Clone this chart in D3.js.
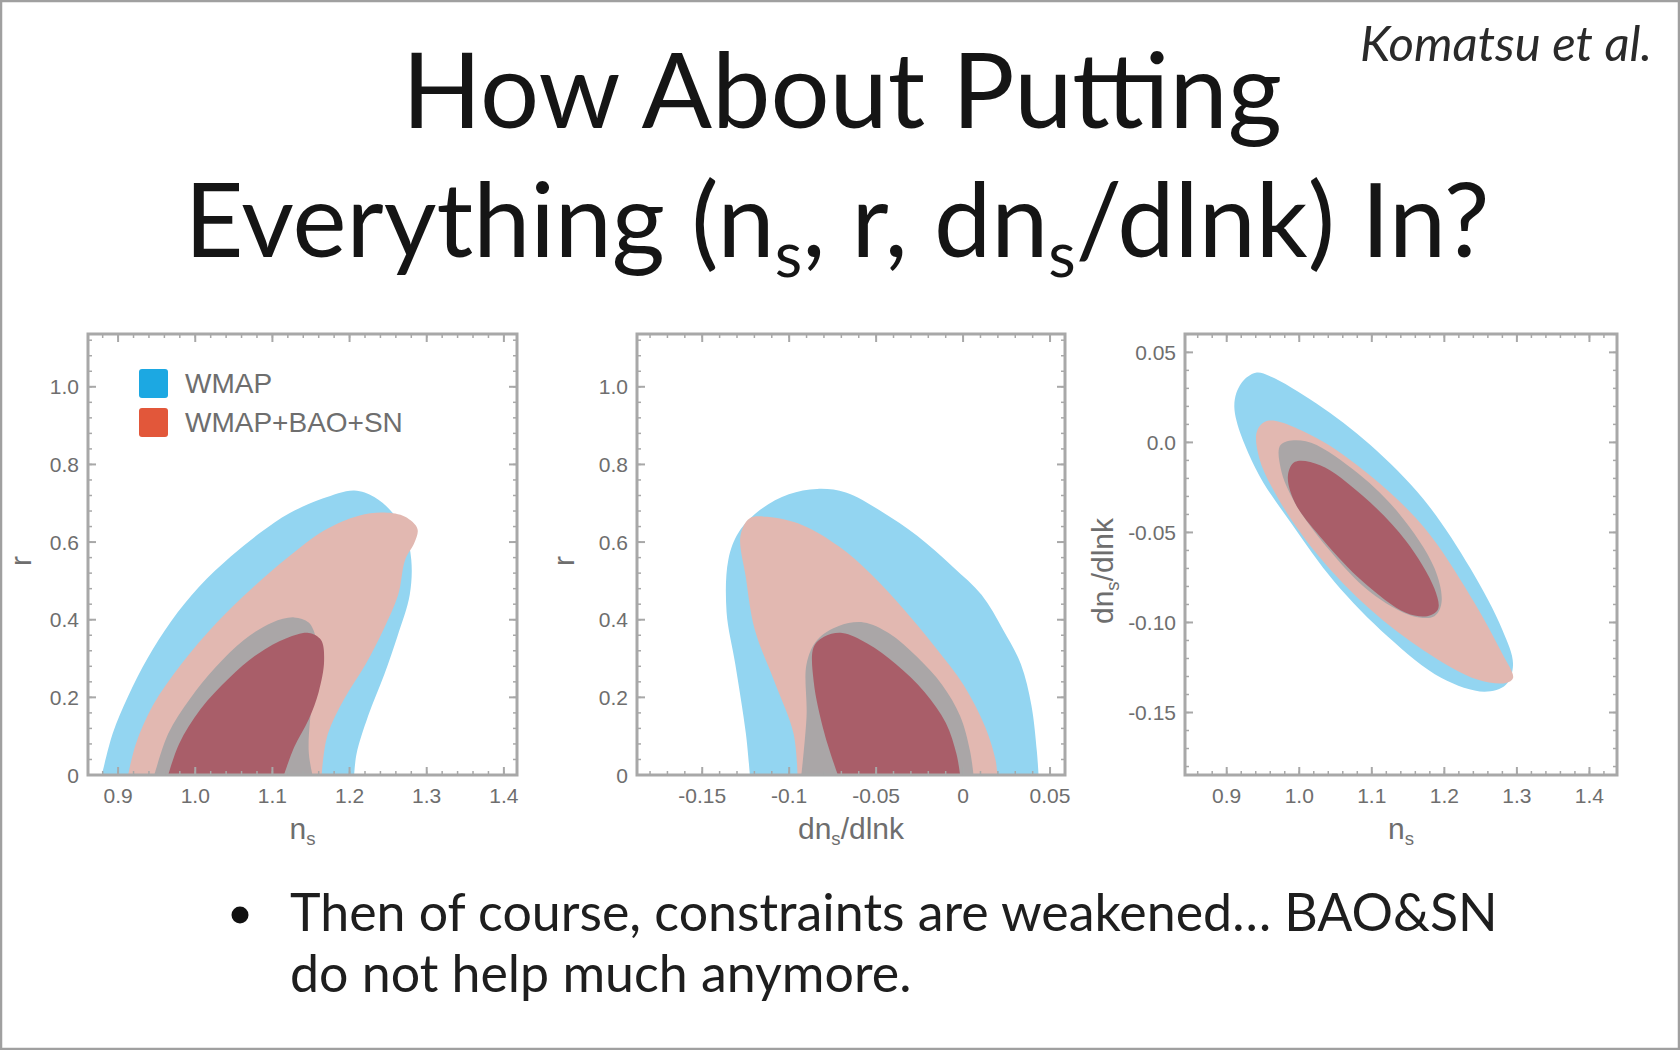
<!DOCTYPE html>
<html>
<head>
<meta charset="utf-8">
<script src="https://cdn.jsdelivr.net/npm/d3@7"></script>
<style>
  body { margin: 0; background: #fff; }
  svg { display: block; }
</style>
</head>
<body>
<div id="slide"></div>
<script>
// ---- values ----
const nsTicks = [0.9, 1.0, 1.1, 1.2, 1.3, 1.4];
const nsTickLabels = ["0.9", "1.0", "1.1", "1.2", "1.3", "1.4"];
const rTicks = [0, 0.2, 0.4, 0.6, 0.8, 1.0];
const rTickLabels = ["0", "0.2", "0.4", "0.6", "0.8", "1.0"];
const runXTicks = [-0.15, -0.1, -0.05, 0, 0.05];
const runXTickLabels = ["-0.15", "-0.1", "-0.05", "0", "0.05"];
const runYTicks = [0.05, 0, -0.05, -0.10, -0.15];
const runYTickLabels = ["0.05", "0.0", "-0.05", "-0.10", "-0.15"];

const legendNames = ["WMAP", "WMAP+BAO+SN"];

// contour outlines [x, y]; panels 1-2 start and end on r = 0
const nsR_wmap95 = [[0.879,0],[0.893,0.107],[0.913,0.203],[0.938,0.300],[0.969,0.397],[1.005,0.485],[1.046,0.563],[1.085,0.625],[1.122,0.674],[1.165,0.712],[1.206,0.733],[1.232,0.716],[1.256,0.675],[1.272,0.625],[1.280,0.554],[1.278,0.464],[1.262,0.357],[1.245,0.259],[1.224,0.152],[1.209,0.054],[1.206,0]];
const nsR_combo95 = [[0.913,0],[0.923,0.080],[0.945,0.179],[0.982,0.286],[1.028,0.393],[1.074,0.482],[1.121,0.562],[1.167,0.630],[1.212,0.668],[1.245,0.676],[1.272,0.665],[1.288,0.634],[1.284,0.598],[1.272,0.554],[1.263,0.464],[1.244,0.375],[1.221,0.286],[1.193,0.196],[1.172,0.107],[1.165,0.027],[1.164,0]];
const nsR_wmap68 = [[0.947,0],[0.965,0.107],[0.993,0.196],[1.026,0.277],[1.063,0.348],[1.100,0.393],[1.128,0.406],[1.147,0.393],[1.156,0.357],[1.160,0.30],[1.152,0.20],[1.147,0.062],[1.152,0]];
const nsR_combo68 = [[0.965,0],[0.979,0.080],[1.007,0.170],[1.044,0.25],[1.081,0.312],[1.119,0.353],[1.147,0.366],[1.163,0.348],[1.167,0.295],[1.160,0.214],[1.147,0.143],[1.128,0.071],[1.115,0]];

const runR_wmap95 = [[-0.1226,0],[-0.1249,0.107],[-0.131,0.286],[-0.136,0.42],[-0.135,0.554],[-0.129,0.625],[-0.1167,0.683],[-0.1002,0.723],[-0.0839,0.737],[-0.0674,0.728],[-0.0469,0.679],[-0.0264,0.616],[-0.0058,0.536],[0.0106,0.464],[0.0229,0.375],[0.0332,0.286],[0.0393,0.179],[0.0424,0.062],[0.0434,0]];
const runR_combo95 = [[-0.0952,0],[-0.0975,0.107],[-0.1085,0.241],[-0.1198,0.375],[-0.1249,0.509],[-0.128,0.616],[-0.1228,0.661],[-0.1126,0.665],[-0.092,0.643],[-0.0715,0.589],[-0.053,0.518],[-0.0345,0.429],[-0.0161,0.330],[0.0003,0.232],[0.0126,0.125],[0.0188,0.036],[0.0196,0]];
const runR_wmap68 = [[-0.093,0],[-0.090,0.152],[-0.090,0.286],[-0.0839,0.348],[-0.0715,0.384],[-0.0571,0.393],[-0.0428,0.366],[-0.0264,0.304],[-0.012,0.232],[-0.0017,0.152],[0.0040,0.062],[0.0060,0]];
const runR_combo68 = [[-0.0720,0],[-0.0797,0.107],[-0.0859,0.241],[-0.0859,0.330],[-0.0797,0.357],[-0.0695,0.366],[-0.0551,0.339],[-0.0387,0.286],[-0.0222,0.214],[-0.0099,0.134],[-0.0038,0.054],[-0.0017,0]];

// panel 3 outlines are closed loops
const nsRun_wmap95 = [[0.94,0.0387],[0.9597,0.0368],[1.0237,0.0216],[1.0977,-0.0013],[1.1716,-0.0317],[1.2356,-0.0698],[1.2799,-0.1041],[1.2947,-0.1232],[1.2848,-0.1346],[1.2553,-0.1384],[1.1961,-0.1308],[1.1223,-0.1079],[1.0484,-0.0774],[0.9892,-0.0451],[0.94,-0.0146],[0.9105,0.0197],[0.9203,0.033]];
const nsRun_combo95 = [[0.958,0.0121],[1.0237,0.0025],[1.0977,-0.0184],[1.1716,-0.047],[1.2356,-0.0851],[1.2799,-0.1174],[1.2947,-0.1308],[1.2848,-0.1336],[1.2454,-0.1317],[1.1716,-0.1155],[1.0977,-0.0927],[1.0287,-0.0641],[0.9745,-0.0336],[0.945,-0.0089],[0.942,0.0065]];
const nsRun_wmap68 = [[0.9745,-0.0013],[1.009,0.0007],[1.073,-0.0146],[1.1371,-0.0393],[1.1863,-0.0698],[1.1961,-0.0889],[1.1863,-0.0965],[1.1568,-0.0965],[1.0977,-0.0831],[1.0385,-0.0584],[0.9942,-0.0336],[0.9745,-0.0146]];
const nsRun_combo68 = [[0.9942,-0.0108],[1.0287,-0.0127],[1.0879,-0.0298],[1.1469,-0.0546],[1.1863,-0.0812],[1.1913,-0.0927],[1.1764,-0.0965],[1.1469,-0.0946],[1.0879,-0.0774],[1.0337,-0.0546],[0.9942,-0.0336],[0.9844,-0.0184]];

// ---- styles ----
const W = 1680, H = 1050;
const colors = { wmap95: "#93d5f1", combo95: "#e2b8b1", wmap68: "#aaa6a7", combo68: "#a95e69" };
const legendColors = ["#1ca8e2", "#e2573a"];
const axisGray = "#a8a8a8";
const labelGray = "#6e6e6e";
const tickFont = "'Liberation Sans', Arial, sans-serif";
const slideFont = "Lato, 'Open Sans', sans-serif";

const svg = d3.select("#slide").append("svg")
  .attr("width", W).attr("height", H)
  .attr("viewBox", `0 0 ${W} ${H}`);

svg.append("rect").attr("width", W).attr("height", H).attr("fill", "#fff");
svg.append("rect")
  .attr("x", 1).attr("y", 1).attr("width", W - 2).attr("height", H - 2)
  .attr("fill", "none").attr("stroke", "#a0a0a0").attr("stroke-width", 2.5);

// text with subscripts; parts = [[text, isSub], ...]
function richText(sel, parts) {
  parts.forEach(([t, sub], i) => {
    const prevSub = i > 0 && parts[i - 1][1];
    const ts = sel.append("tspan").text(t);
    if (sub) ts.attr("font-size", "62%").attr("dy", "0.32em");
    else if (prevSub) ts.attr("dy", "-0.2em");
  });
  return sel;
}

// scale a text's font size so its width matches the picture
function fitWidth(textSel, target) {
  const len = textSel.node().getComputedTextLength();
  const fs = parseFloat(textSel.attr("font-size"));
  textSel.attr("font-size", fs * target / len);
}

// ---- title ----
const t1 = svg.append("text")
  .attr("x", 842).attr("y", 128)
  .attr("text-anchor", "middle")
  .attr("font-family", slideFont).attr("font-size", 100)
  .attr("fill", "#151515")
  .text("How About Putting");
fitWidth(t1, 880);

const t2 = svg.append("text")
  .attr("x", 837).attr("y", 257)
  .attr("text-anchor", "middle")
  .attr("font-family", slideFont).attr("font-size", 100)
  .attr("fill", "#151515");
richText(t2, [["Everything (n", false], ["s", true], [", r, dn", false], ["s", true], ["/dlnk) In?", false]]);
fitWidth(t2, 1305);

svg.append("text")
  .attr("x", 1652).attr("y", 61)
  .attr("text-anchor", "end")
  .attr("font-family", slideFont).attr("font-style", "italic")
  .attr("font-size", 48).attr("fill", "#2a2a2a")
  .attr("textLength", 292).attr("lengthAdjust", "spacingAndGlyphs")
  .text("Komatsu et al.");

// ---- panels ----
function drawPanel(p) {
  const x = d3.scaleLinear().domain(p.xDomain).range(p.xRange);
  const y = d3.scaleLinear().domain(p.yDomain).range(p.yRange);
  const g = svg.append("g");

  g.append("clipPath").attr("id", p.id)
    .append("rect")
    .attr("x", p.xRange[0]).attr("y", p.yRange[1])
    .attr("width", p.xRange[1] - p.xRange[0])
    .attr("height", p.yRange[0] - p.yRange[1]);

  const line = d3.line()
    .x(d => x(d[0])).y(d => y(d[1]))
    .curve(p.closed ? d3.curveCatmullRomClosed.alpha(0.5) : d3.curveCatmullRom.alpha(0.5));

  g.append("g").attr("clip-path", `url(#${p.id})`)
    .selectAll("path")
    .data(p.layers)
    .join("path")
    .attr("d", d => line(d.pts) + (p.closed ? "" : "Z"))
    .attr("fill", d => d.color);

  // frame
  g.append("rect")
    .attr("x", p.xRange[0]).attr("y", p.yRange[1])
    .attr("width", p.xRange[1] - p.xRange[0])
    .attr("height", p.yRange[0] - p.yRange[1])
    .attr("fill", "none").attr("stroke", axisGray).attr("stroke-width", 3);

  // inward ticks on all four sides
  const xMinor = d3.range(Math.ceil(p.xDomain[0] / p.xMinor), Math.floor(p.xDomain[1] / p.xMinor) + 1).map(i => i * p.xMinor);
  const yMinor = d3.range(Math.ceil(p.yDomain[0] / p.yMinor), Math.floor(p.yDomain[1] / p.yMinor) + 1).map(i => i * p.yMinor);
  const tk = g.append("g").attr("stroke", axisGray);
  [[xMinor, 4, 1.5], [p.xTicks, 8, 2]].forEach(([vals, len, w]) => {
    vals.forEach(v => {
      const px = x(v);
      tk.append("line").attr("x1", px).attr("x2", px).attr("y1", p.yRange[0]).attr("y2", p.yRange[0] - len).attr("stroke-width", w);
      tk.append("line").attr("x1", px).attr("x2", px).attr("y1", p.yRange[1]).attr("y2", p.yRange[1] + len).attr("stroke-width", w);
    });
  });
  [[yMinor, 4, 1.5], [p.yTicks, 8, 2]].forEach(([vals, len, w]) => {
    vals.forEach(v => {
      const py = y(v);
      tk.append("line").attr("y1", py).attr("y2", py).attr("x1", p.xRange[0]).attr("x2", p.xRange[0] + len).attr("stroke-width", w);
      tk.append("line").attr("y1", py).attr("y2", py).attr("x1", p.xRange[1]).attr("x2", p.xRange[1] - len).attr("stroke-width", w);
    });
  });

  // tick labels
  g.append("g").selectAll("text")
    .data(p.xTicks)
    .join("text")
    .attr("x", d => x(d)).attr("y", p.yRange[0] + 28)
    .attr("text-anchor", "middle")
    .attr("font-family", tickFont).attr("font-size", 21).attr("fill", labelGray)
    .text((d, i) => p.xTickLabels[i]);

  g.append("g").selectAll("text")
    .data(p.yTicks)
    .join("text")
    .attr("x", p.xRange[0] - 9).attr("y", d => y(d) + 7.5)
    .attr("text-anchor", "end")
    .attr("font-family", tickFont).attr("font-size", 21).attr("fill", labelGray)
    .text((d, i) => p.yTickLabels[i]);

  // axis titles
  const xt = g.append("text")
    .attr("x", (p.xRange[0] + p.xRange[1]) / 2).attr("y", p.yRange[0] + 64)
    .attr("text-anchor", "middle")
    .attr("font-family", tickFont).attr("font-size", 30).attr("fill", labelGray);
  richText(xt, p.xTitle);

  const yt = g.append("text")
    .attr("transform", `translate(${p.yTitleX},${p.yTitleY}) rotate(-90)`)
    .attr("text-anchor", "middle")
    .attr("font-family", tickFont).attr("font-size", 30).attr("fill", labelGray);
  richText(yt, p.yTitle);

  return { x, y, g };
}

const nsTitle = [["n", false], ["s", true]];
const runTitle = [["dn", false], ["s", true], ["/dlnk", false]];

drawPanel({
  id: "clip1", closed: false,
  xDomain: [0.861, 1.417], xRange: [88, 517],
  yDomain: [0, 1.136], yRange: [775, 334],
  xTicks: nsTicks, xTickLabels: nsTickLabels, xMinor: 0.02,
  yTicks: rTicks, yTickLabels: rTickLabels, yMinor: 0.04,
  xTitle: nsTitle, yTitle: [["r", false]], yTitleX: 31, yTitleY: 561,
  layers: [
    { pts: nsR_wmap95, color: colors.wmap95 },
    { pts: nsR_combo95, color: colors.combo95 },
    { pts: nsR_wmap68, color: colors.wmap68 },
    { pts: nsR_combo68, color: colors.combo68 }
  ]
});

drawPanel({
  id: "clip2", closed: false,
  xDomain: [-0.1875, 0.0586], xRange: [637, 1065],
  yDomain: [0, 1.136], yRange: [775, 334],
  xTicks: runXTicks, xTickLabels: runXTickLabels, xMinor: 0.01,
  yTicks: rTicks, yTickLabels: rTickLabels, yMinor: 0.04,
  xTitle: runTitle, yTitle: [["r", false]], yTitleX: 574, yTitleY: 561,
  layers: [
    { pts: runR_wmap95, color: colors.wmap95 },
    { pts: runR_combo95, color: colors.combo95 },
    { pts: runR_wmap68, color: colors.wmap68 },
    { pts: runR_combo68, color: colors.combo68 }
  ]
});

drawPanel({
  id: "clip3", closed: true,
  xDomain: [0.8425, 1.438], xRange: [1185, 1617],
  yDomain: [-0.1847, 0.0602], yRange: [775, 334],
  xTicks: nsTicks, xTickLabels: nsTickLabels, xMinor: 0.02,
  yTicks: runYTicks, yTickLabels: runYTickLabels, yMinor: 0.01,
  xTitle: nsTitle, yTitle: runTitle, yTitleX: 1113, yTitleY: 571,
  layers: [
    { pts: nsRun_wmap95, color: colors.wmap95 },
    { pts: nsRun_combo95, color: colors.combo95 },
    { pts: nsRun_wmap68, color: colors.wmap68 },
    { pts: nsRun_combo68, color: colors.combo68 }
  ]
});

// legend in panel 1
const legend = svg.append("g").attr("transform", "translate(139,369)");
legendNames.forEach((name, i) => {
  const row = legend.append("g").attr("transform", `translate(0, ${i * 39})`);
  row.append("rect")
    .attr("width", 29).attr("height", 29).attr("rx", 3)
    .attr("fill", legendColors[i]);
  row.append("text")
    .attr("x", 46).attr("y", 24)
    .attr("font-family", tickFont).attr("font-size", 28)
    .attr("fill", labelGray)
    .text(name);
});

// ---- bullet ----
svg.append("circle").attr("cx", 240).attr("cy", 915).attr("r", 8.5).attr("fill", "#111");
const b1 = svg.append("text")
  .attr("x", 290).attr("y", 931)
  .attr("font-family", slideFont).attr("font-size", 52).attr("fill", "#1e1e1e")
  .text("Then of course, constraints are weakened\u2026 BAO&SN");
fitWidth(b1, 1208);
svg.append("text")
  .attr("x", 290).attr("y", 992)
  .attr("font-family", slideFont).attr("font-size", b1.attr("font-size")).attr("fill", "#1e1e1e")
  .text("do not help much anymore.");
</script>
</body>
</html>
